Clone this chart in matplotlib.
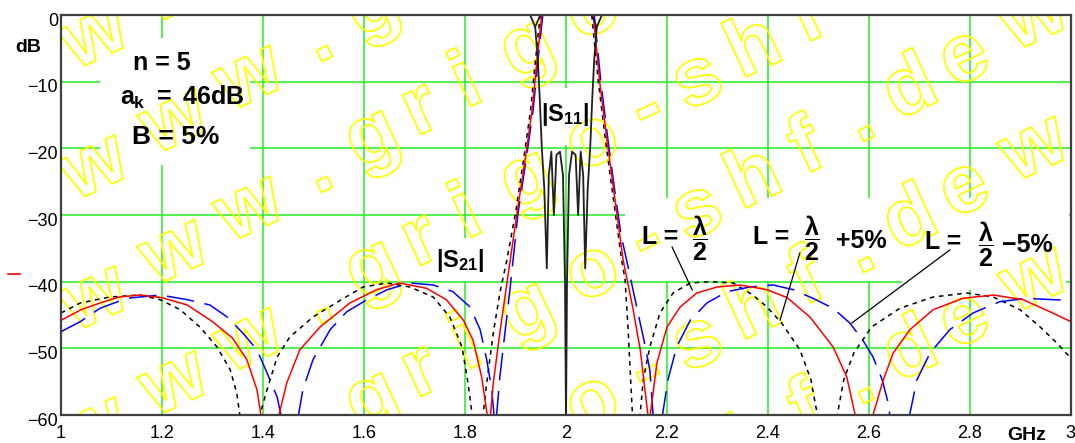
import numpy as np
import matplotlib
matplotlib.use("Agg")
import matplotlib.pyplot as plt
from matplotlib.textpath import TextPath
from matplotlib.patches import PathPatch, Rectangle
from matplotlib.font_manager import FontProperties
from matplotlib.transforms import Affine2D, IdentityTransform, ScaledTranslation
from matplotlib.lines import Line2D

plt.rcParams['font.family'] = ['Liberation Sans', 'DejaVu Sans']
plt.rcParams['mathtext.fontset'] = 'custom'
plt.rcParams['mathtext.rm'] = 'Liberation Sans:bold'
plt.rcParams['mathtext.it'] = 'Liberation Sans:bold'
plt.rcParams['mathtext.bf'] = 'Liberation Sans:bold'

nan = np.nan

# |S21|, L = lambda/2 (red)
red_f = [1.000, 1.040, 1.077, 1.115, 1.156, 1.200, 1.250, 1.300, 1.340, 1.368, 1.388, 1.397, nan,
         1.430, 1.447, 1.473, 1.513, 1.572, 1.625, 1.671, 1.724, 1.763, 1.797, 1.816, 1.833, 1.845, nan,
         1.850, 1.856, 1.869, 1.883, 1.903, 1.919, 1.933, 1.942, 1.952, nan,
         2.054, 2.067, 2.081, 2.097, 2.113, 2.133, 2.147, 2.163, nan,
         2.166, 2.180, 2.200, 2.226, 2.259, 2.299, 2.345, 2.398, 2.438, 2.483, 2.529, 2.556, 2.574, nan,
         2.606, 2.628, 2.648, 2.681, 2.727, 2.786, 2.846, 2.905, 2.958, 3.000]
red_db = [-45.8, -44.2, -43.2, -42.3, -42.0, -42.4, -43.5, -46.0, -48.5, -51.7, -56.2, -60.5, nan,
          -60.5, -55.2, -50.2, -46.8, -43.2, -41.2, -40.2, -41.0, -42.7, -45.8, -48.8, -54.3, -60.5, nan,
          -60.5, -55.2, -47.7, -40.2, -29.7, -21.7, -14.2, -7.2, 0.0, nan,
          0.0, -10.2, -18.7, -27.7, -36.7, -44.2, -50.2, -60.5, nan,
          -60.5, -52.2, -46.8, -43.8, -41.7, -40.8, -40.5, -41.2, -42.4, -45.3, -49.8, -54.3, -60.5, nan,
          -60.5, -54.8, -50.7, -47.2, -44.2, -42.5, -42.0, -42.7, -44.5, -46.0]

# |S21|, L = lambda/2 + 5% (black, short dashes)
blk_f = [1.000, 1.038, 1.097, 1.156, 1.196, 1.236, 1.275, 1.309, 1.335, 1.348, 1.355, nan,
         1.392, 1.408, 1.428, 1.453, 1.499, 1.553, 1.598, 1.646, 1.691, 1.737, 1.770, 1.794, 1.806, 1.815, nan,
         1.835, 1.843, 1.856, 1.869, 1.883, 1.900, 1.916, 1.930, 1.939, 1.949, nan,
         2.051, 2.064, 2.078, 2.094, 2.110, 2.117, 2.123, 2.128, 2.132, nan,
         2.146, 2.153, 2.166, 2.186, 2.212, 2.246, 2.285, 2.331, 2.370, 2.398, 2.427, 2.463, 2.485, 2.499, nan,
         2.536, 2.550, 2.570, 2.605, 2.661, 2.727, 2.794, 2.846, 2.899, 2.939, 2.972, 3.000]
blk_db = [-44.7, -43.2, -42.3, -42.0, -42.7, -44.2, -46.8, -49.8, -53.2, -56.7, -60.5, nan,
          -60.5, -56.2, -51.3, -48.3, -45.3, -42.8, -40.8, -40.2, -40.8, -42.3, -45.3, -49.8, -55.2, -60.5, nan,
          -60.5, -55.2, -47.7, -41.7, -36.7, -29.7, -21.7, -14.2, -7.2, 0.0, nan,
          0.0, -10.0, -18.7, -27.7, -36.7, -39.7, -47.2, -54.7, -60.5, nan,
          -60.5, -54.7, -49.8, -44.7, -41.7, -40.2, -40.0, -40.2, -42.0, -43.8, -46.2, -50.2, -54.7, -60.5, nan,
          -60.5, -54.7, -50.7, -46.8, -44.0, -42.3, -41.7, -42.3, -44.2, -46.8, -49.2, -51.5]

# |S21|, L = lambda/2 - 5% (blue, long dashes)
blu_f = [1.000, 1.038, 1.077, 1.130, 1.196, 1.250, 1.295, 1.329, 1.360, 1.388, 1.408, 1.428, 1.437, nan,
         1.469, 1.479, 1.499, 1.533, 1.566, 1.606, 1.646, 1.691, 1.737, 1.776, 1.810, 1.830, 1.843, 1.853, 1.858, nan,
         1.862, 1.869, 1.879, 1.889, 1.905, 1.921, 1.935, 1.944, 1.954, nan,
         2.056, 2.069, 2.083, 2.099, 2.109, 2.127, 2.140, 2.153, 2.166, 2.173, nan,
         2.190, 2.202, 2.219, 2.246, 2.279, 2.319, 2.364, 2.410, 2.450, 2.489, 2.529, 2.562, 2.588, 2.608,
         2.626, 2.638, 2.642, nan,
         2.679, 2.695, 2.721, 2.760, 2.806, 2.859, 2.913, 2.964, 3.000]
blu_db = [-47.5, -46.0, -44.0, -42.5, -42.0, -42.7, -43.5, -45.3, -47.7, -50.2, -53.7, -57.3, -60.5, nan,
          -60.5, -56.2, -51.7, -47.2, -44.5, -42.7, -41.2, -40.2, -40.5, -41.5, -43.8, -47.2, -51.7, -56.2, -60.5, nan,
          -60.5, -54.3, -47.7, -41.2, -29.7, -21.7, -14.2, -7.2, 0.0, nan,
          0.0, -10.0, -18.7, -27.7, -33.0, -39.2, -43.8, -48.3, -53.2, -60.5, nan,
          -60.5, -54.7, -49.8, -45.8, -43.2, -41.5, -40.8, -40.5, -41.2, -42.5, -44.0, -46.2, -48.8, -51.3,
          -54.7, -58.2, -60.5, nan,
          -60.5, -54.7, -50.7, -47.2, -44.7, -43.0, -42.5, -42.7, -42.8]

# |S11| (thin black)
s11_f = [1.929, 1.939, 1.944, 1.948, 1.952, 1.957, 1.962, 1.966, 1.971, 1.976, 1.981, 1.988, 1.994,
         1.998, 2.000, 2.002, 2.006, 2.012, 2.019, 2.024, 2.029, 2.034, 2.038, 2.043, 2.048, 2.052,
         2.056, 2.061, 2.071]
s11_db = [0.0, -1.8, -6.5, -12.5, -19.8, -26.0, -38.0, -24.0, -20.5, -30.0, -21.0, -20.5, -24.0,
          -40.0, -61.0, -40.0, -24.0, -20.5, -21.0, -30.0, -20.5, -24.0, -38.0, -26.0, -19.8, -12.5,
          -6.5, -1.8, 0.0]
s11_arm_f = [1.949, 1.939, nan, 2.051, 2.061]
s11_arm_db = [0.0, -1.8, nan, 0.0, -1.8]

xticks = [1.0, 1.2, 1.4, 1.6, 1.8, 2.0, 2.2, 2.4, 2.6, 2.8, 3.0]
xticklabels = ['1', '1.2', '1.4', '1.6', '1.8', '2', '2.2', '2.4', '2.6', '2.8', '3']
yticks = [0, -10, -20, -30, -40, -50, -60]

W, H = 1075, 443
fig = plt.figure(figsize=(W / 100, H / 100), dpi=100)
ax = fig.add_axes([61 / W, 28 / H, 1010 / W, 400 / H])
ax.set_xlim(1, 3)
ax.set_ylim(-60, 0)
ax.set_xticks(xticks)
ax.set_xticklabels(xticklabels)
ax.set_yticks(yticks)
ax.tick_params(length=0, labelsize=13)
ax.tick_params(axis='x', pad=7)
ax.tick_params(axis='y', pad=2)
ax.grid(True, color='#22ee22', lw=1.1)
ax.set_axisbelow(True)
for s in ax.spines.values():
    s.set_color('#404040')
    s.set_linewidth(1.6)
down = ScaledTranslation(0, -3 / 72, fig.dpi_scale_trans)
for lab in ax.get_yticklabels():
    lab.set_transform(lab.get_transform() + down)
# last x label sits on the right border, as in the original
ax.get_xticklabels()[-1].set_ha('left')
ax.get_xticklabels()[-1].set_transform(ax.get_xticklabels()[-1].get_transform()
                                       + ScaledTranslation(-4 / 72, 0, fig.dpi_scale_trans))

# white areas behind the labels (they cut the grid)
for x0, y0, x1, y1 in [(100, 38, 250, 165), (420, 238, 505, 281), (545, 88, 590, 145),
                       (625, 198, 1069, 281), (902, 270, 1066, 290)]:
    ax.add_patch(Rectangle((x0, H - y1), x1 - x0, y1 - y0, transform=IdentityTransform(),
                           facecolor='white', edgecolor='none', zorder=1))

# watermark, outlined letters
wm_chars = "www.grigo-shf.de"
wm_dx = [0, 80, 155, 223, 277, 328, 372, 432, 498, 553, 603, 660, 713, 765, 815, 870]
fp = FontProperties(family='Liberation Sans', weight='bold')
E = 82
slope = np.tan(np.radians(30))
for k in range(-2, 5):
    yr = 110 + 131 * k
    for rep in (-1, 0, 1):
        for ch, dx in zip(wm_chars, wm_dx):
            x = 95 + dx + rep * 940
            y = yr - (x - 423) * slope
            if x < 0 or x > W + 60:
                continue
            tp = TextPath((0, 0), ch, size=E, prop=fp)
            ext = tp.get_extents()
            cx = (ext.x0 + ext.x1) / 2
            tr = Affine2D().translate(-cx, -0.26 * E).rotate_deg(25).translate(x, H - y)
            p = PathPatch(tr.transform_path(tp), transform=IdentityTransform(),
                          facecolor='none', edgecolor='#ffff00', lw=1.3, zorder=1.5)
            ax.add_patch(p)

ax.plot(blk_f, blk_db, color='black', lw=1.1, ls=(0, (3, 3)), zorder=2)
ax.plot(blu_f, blu_db, color='blue', lw=1.1, ls=(0, (18, 7)), zorder=2.1)
ax.plot(red_f, red_db, color='red', lw=1.1, zorder=2.2)
ax.plot(s11_f, s11_db, color='#202020', lw=1.3, zorder=2.3)
ax.plot(s11_arm_f, s11_arm_db, color='#202020', lw=1.2, zorder=2.3)

# labels
bold = dict(fontweight='bold', color='black', zorder=5)
ax.text(1.200, -7.2, 'n = 5', fontsize=18, ha='center', va='center', **bold)
ax.text(1.240, -12.4, r'$a_k\ =\ 46dB$', fontsize=18, ha='center', va='center', zorder=5)
ax.text(1.228, -18.3, 'B = 5%', fontsize=19, ha='center', va='center', **bold)
ax.text(1.998, -15.0, r'$|S_{11}|$', fontsize=17, ha='center', va='center', zorder=5)
ax.text(1.790, -36.75, r'$|S_{21}|$', fontsize=17, ha='center', va='center', zorder=5)

ax.text(2.186, -33.3, 'L =', fontsize=18, ha='center', va='center', **bold)
ax.text(2.265, -33.5, r'$\dfrac{\lambda}{2}$', fontsize=18, ha='center', va='center', zorder=5)
ax.text(2.406, -33.3, 'L =', fontsize=18, ha='center', va='center', **bold)
ax.text(2.487, -33.5, r'$\dfrac{\lambda}{2}$', fontsize=18, ha='center', va='center', zorder=5)
ax.text(2.584, -33.9, '+5%', fontsize=18, ha='center', va='center', **bold)
ax.text(2.747, -34.0, 'L =', fontsize=18, ha='center', va='center', **bold)
ax.text(2.832, -34.3, r'$\dfrac{\lambda}{2}$', fontsize=18, ha='center', va='center', zorder=5)
ax.text(2.913, -34.5, '\u22125%', fontsize=18, ha='center', va='center', **bold)

for (xa, ya), (xb, yb) in [((2.210, -34.8), (2.250, -41.25)),
                           ((2.463, -35.7), (2.424, -45.75)),
                           ((2.760, -35.25), (2.566, -46.2))]:
    ax.plot([xa, xb], [ya, yb], color='black', lw=0.9, zorder=4)

fig.text(1027 / W, 1 - 436 / H, 'GHz', fontsize=14, fontweight='bold', ha='center', va='center')
fig.text(28 / W, 1 - 48 / H, 'dB', fontsize=14, fontweight='bold', ha='center', va='center')
fig.add_artist(Line2D([8 / W, 20 / W], [1 - 273.5 / H] * 2, color='red', lw=1.2,
                      transform=fig.transFigure))

fig.savefig('out.png', dpi=100)
